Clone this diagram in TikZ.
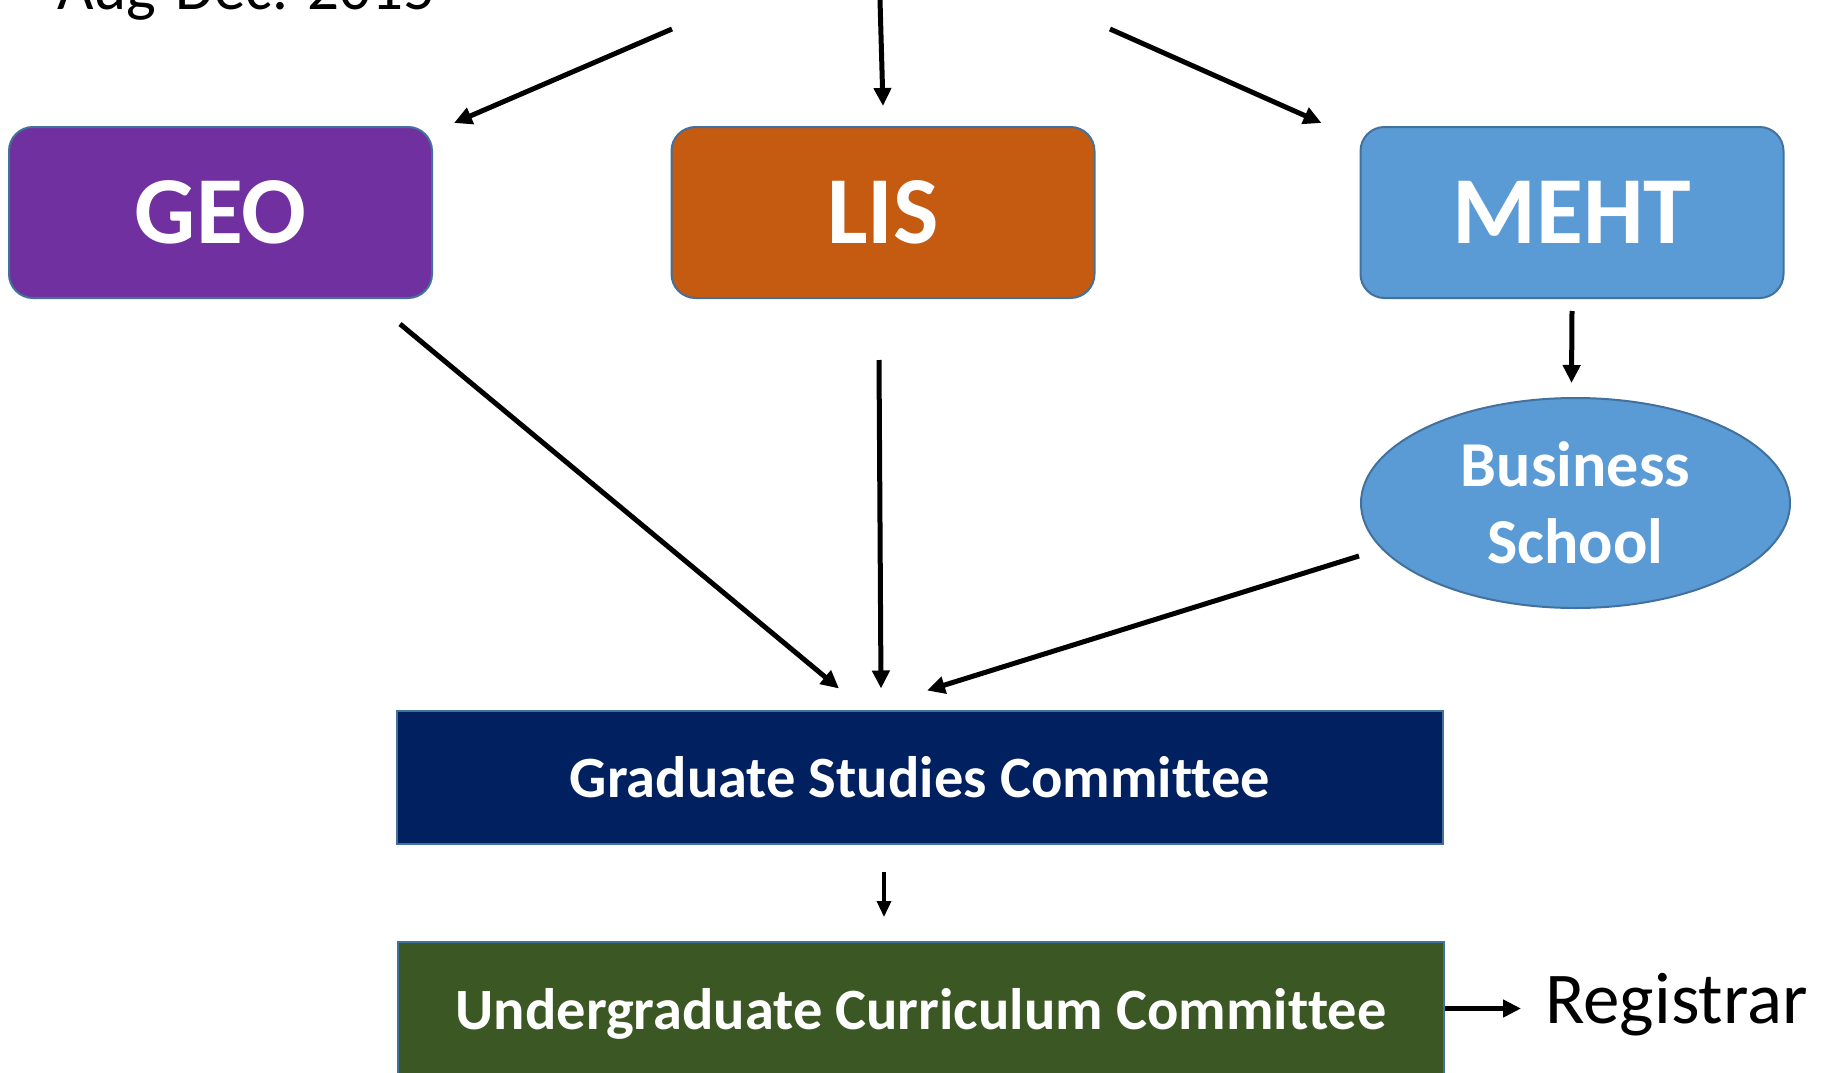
\documentclass[tikz,border=0pt]{standalone}
\usepackage{fontspec}
\setmainfont{Carlito}[Ligatures=NoCommon]
\usetikzlibrary{shapes.geometric,arrows.meta,calc}
\definecolor{geoC}{HTML}{7030A0}
\definecolor{lisC}{HTML}{C55A11}
\definecolor{mehtC}{HTML}{5B9BD5}
\definecolor{gradC}{HTML}{002060}
\definecolor{ugC}{HTML}{3B5724}
\definecolor{edgeC}{HTML}{41719C}
\begin{document}
\begin{tikzpicture}[x=1pt,y=-1pt,
  dept/.style={draw=edgeC,line width=2pt,rounded corners=24pt,minimum width=423pt,minimum height=171pt,inner sep=0pt,text=white,font=\fontsize{96}{100}\selectfont\bfseries},
  cmte/.style={draw=edgeC,line width=2pt,minimum width=1046pt,minimum height=133pt,inner sep=0pt,text=white,font=\fontsize{58.5}{64}\selectfont\bfseries},
  arr/.style={line width=5pt,-{Triangle[length=18pt,width=17pt]}},
  thinarr/.style={line width=3.5pt,-{Triangle[length=16pt,width=14pt]}}]
\useasboundingbox (0,0) rectangle (1823,1073);
\node[dept,fill=geoC] (geo) at (220.5,212.5) {GEO};
\node[dept,fill=lisC] (lis) at (883,212.5) {LIS};
\node[dept,fill=mehtC] (meht) at (1572,212.5) {MEHT};
\node[ellipse,draw=edgeC,line width=2pt,fill=mehtC,minimum width=429pt,minimum height=210pt,inner sep=0pt,text=white,align=center,font=\fontsize{64}{77}\selectfont\bfseries] (bs) at (1575.5,503) {Business\\School};
\node[cmte,fill=gradC] (grad) at (920,777) {Graduate Studies Committee};
\node[cmte,fill=ugC,text depth=0pt] (ug) at (921,1008.5) {Undergraduate Curriculum Committee};
\node[anchor=base west,inner sep=0pt,font=\fontsize{73}{80}\selectfont] (reg) at (1545,1023) {Registrar};
\node[anchor=base west,inner sep=0pt,font=\fontsize{63}{70}\selectfont] (aug) at (57,10) {Aug-Dec. 2015};
\coordinate (t1) at (672,29);
\coordinate (t2) at (880,0);
\coordinate (t3) at (1110,29);
\coordinate (rega) at ($(reg.west)+(-24,0)$);
\draw[arr] (t1) -- ($(geo.north east)+(21,-3)$);
\draw[arr] (t2) -- ($(lis.north)+(0,-20)$);
\draw[arr] (t3) -- ($(meht.north west)+(-38,-3)$);
\draw[arr] ($(geo.south east)+(-33,25)$) -- ($(grad.north)+(-81,-21)$);
\draw[arr] ($(lis.south)+(-4,61)$) -- ($(grad.north)+(-39,-21)$);
\draw[arr] ($(meht.south)+(0,12)$) -- ($(bs.north)+(-4,-14)$);
\draw[arr] ($(bs.west)+(-1,53)$) -- ($(grad.north)+(7,-19)$);
\draw[thinarr] ($(grad.south)+(-36,27)$) -- ($(ug.north)+(-37,-24)$);
\draw[arr] (ug.east) -- (ug.east -| rega);
\end{tikzpicture}
\end{document}
